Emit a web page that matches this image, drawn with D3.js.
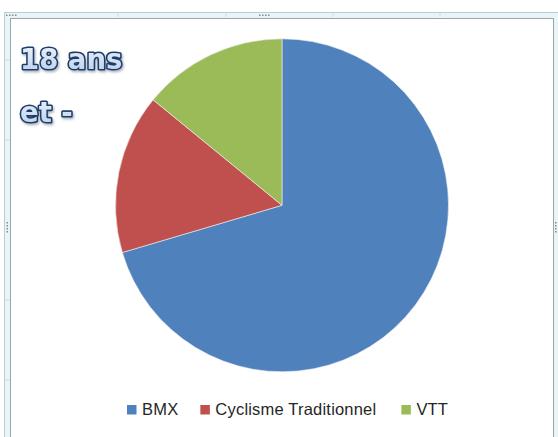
<!DOCTYPE html>
<html>
<head>
<meta charset="utf-8">
<script src="https://cdn.jsdelivr.net/npm/d3@7"></script>
<style>
  body { margin: 0; background: #fff; }
  svg { display: block; }
</style>
</head>
<body>
<svg width="558" height="437"></svg>
<script>
// data
const categories = ['BMX', 'Cyclisme Traditionnel', 'VTT'];
const values = [50, 11, 10];
const colors = ['#4f81bd', '#c0504d', '#9bbb59'];
const titleLines = ['18 ans', 'et -'];

const width = 558, height = 437;
const svg = d3.select('svg');
const defs = svg.append('defs');

// excel style selection frame
svg.append('rect')
  .attr('x', 4.5).attr('y', 12.5)
  .attr('width', 560).attr('height', 440)
  .attr('fill', '#eaf4f6')
  .attr('stroke', '#b8ced5');
// little tick marks on the frame band
[118, 226, 333, 440].forEach(x => {
  svg.append('line').attr('x1', x).attr('x2', x).attr('y1', 13).attr('y2', 17)
    .attr('stroke', '#cfdde1');
});
[60, 140, 300, 380].forEach(y => {
  svg.append('line').attr('x1', 5).attr('x2', 10).attr('y1', y).attr('y2', y)
    .attr('stroke', '#cfdde1');
});
// chart area
svg.append('rect')
  .attr('x', 10.5).attr('y', 18.5)
  .attr('width', 543).attr('height', 430)
  .attr('fill', '#fff')
  .attr('stroke', '#98a7ab');

// grip dots (top centre, left/right middle, corners)
function grip(x, y, horiz) {
  for (let i = 0; i < 4; i++) {
    svg.append('rect')
      .attr('x', horiz ? x + i * 3 : x)
      .attr('y', horiz ? y : y + i * 3)
      .attr('width', 1.5).attr('height', 1.5)
      .attr('fill', '#7f8c90');
  }
}
grip(259, 14.5, true);
grip(6.5, 222, false);
grip(555, 222, false);
grip(6, 14.5, true);

// pie
const cx = 282, cy = 205.3, r = 166.5;
const pie = d3.pie().sort(null).value(d => d)(values);
const arc = d3.arc().innerRadius(0).outerRadius(r);

svg.append('g')
  .attr('transform', `translate(${cx},${cy})`)
  .selectAll('path')
  .data(pie)
  .enter()
  .append('path')
  .attr('d', arc)
  .attr('fill', (d, i) => colors[i])
  .attr('stroke', '#f2f2f2')
  .attr('stroke-width', 0.6);

// title, word art look
const grad = defs.append('linearGradient')
  .attr('id', 'titleFill')
  .attr('x1', 0).attr('x2', 0).attr('y1', 0).attr('y2', 1);
grad.append('stop').attr('offset', '0%').attr('stop-color', '#eef4fb');
grad.append('stop').attr('offset', '100%').attr('stop-color', '#b9cfe9');

const shadow = defs.append('filter').attr('id', 'shadow')
  .attr('x', '-10%').attr('y', '-10%').attr('width', '130%').attr('height', '140%');
shadow.append('feDropShadow')
  .attr('dx', 1.2).attr('dy', 1.8).attr('stdDeviation', 1.3)
  .attr('flood-color', '#5a6a80').attr('flood-opacity', 0.5);

svg.append('g')
  .attr('filter', 'url(#shadow)')
  .selectAll('text')
  .data(titleLines)
  .enter()
  .append('text')
  .attr('x', 20)
  .attr('y', (d, i) => 69 + i * 53)
  .text(d => d)
  .attr('font-family', 'DejaVu Sans')
  .attr('font-weight', 'bold')
  .attr('font-size', 27.5)
  .attr('fill', 'url(#titleFill)')
  .attr('stroke', '#1f3d6b')
  .attr('stroke-width', 3.2)
  .attr('stroke-linejoin', 'round')
  .attr('paint-order', 'stroke');

// legend
const legend = svg.append('g');
const gaps = [22, 25];
let lx = 127;
categories.forEach((c, i) => {
  legend.append('rect')
    .attr('x', lx).attr('y', 405)
    .attr('width', 9.5).attr('height', 9.5)
    .attr('fill', colors[i]);
  const t = legend.append('text')
    .attr('x', lx + 15).attr('y', 415)
    .text(c)
    .attr('font-family', 'Liberation Sans')
    .attr('font-size', 16.5)
    .attr('letter-spacing', 0.2)
    .attr('fill', '#262626');
  lx += 15 + t.node().getComputedTextLength() + (gaps[i] || 0);
});
</script>
</body>
</html>
